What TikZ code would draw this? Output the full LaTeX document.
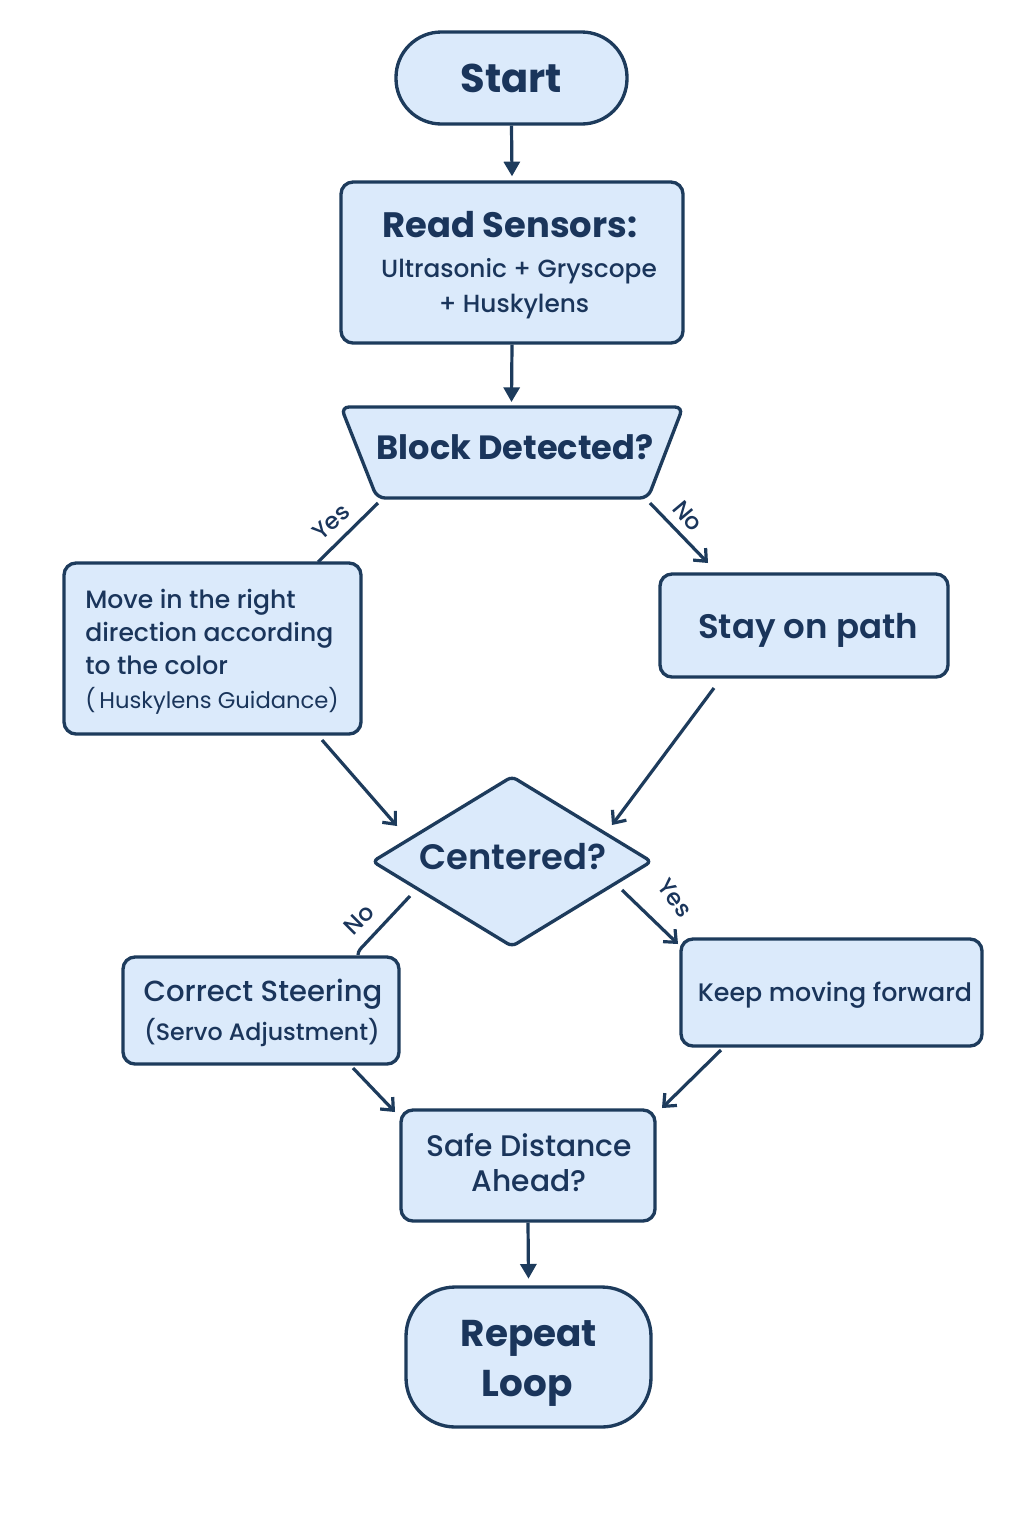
\documentclass[tikz,border=0pt]{standalone}
\usepackage{fontspec}
\setmainfont{Poppins}
\IfFontExistsTF{Poppins Medium}{\newfontfamily\medfont{Poppins Medium}}{\newfontfamily\medfont{Poppins}[FakeBold=1]}
\IfFontExistsTF{Poppins SemiBold}{\newfontfamily\semifont{Poppins SemiBold}}{\newfontfamily\semifont{Poppins}[FakeBold=2]}
\usetikzlibrary{arrows.meta,shapes.geometric}
\definecolor{edge}{HTML}{1D3B5C}
\definecolor{ink}{HTML}{1A355B}
\definecolor{boxfill}{HTML}{DBEAFB}
\begin{document}
\begin{tikzpicture}[x=0.75pt,y=-0.75pt,
  box/.style={draw=edge, line width=2.5pt, fill=boxfill, rounded corners=9pt, inner sep=0pt},
  txt/.style={text=ink, inner sep=0pt, anchor=base},
  lbl/.style={text=ink, inner sep=0pt, font=\medfont\fontsize{17.5}{21}\selectfont},
  arrv/.style={draw=edge, line width=2.4pt, -{Triangle[length=11pt,width=12pt]}},
  arrd/.style={draw=edge, line width=2.4pt, -{Straight Barb[length=7.5pt,width=13pt]}},
  link/.style={draw=edge, line width=2.4pt}]
\fill[white] (0,0) rectangle (1024,1536);
\useasboundingbox (0,0) rectangle (1024,1536);

% Start
\node[box, rounded corners=34pt, minimum width={231*0.75pt}, minimum height={92*0.75pt}] (start) at (511.5,78) {};
\node[txt, font=\bfseries\fontsize{30}{36}\selectfont] (t-start) at (511.5,92) {Start};

% Read sensors
\node[box, minimum width={342*0.75pt}, minimum height={161*0.75pt}] (read) at (512,262.5) {};
\node[txt, font=\bfseries\fontsize{26.5}{32}\selectfont] (t-read1) at (510,237) {Read Sensors:};
\node[txt, font=\medfont\fontsize{18.6}{22}\selectfont] (t-read2) at (519,277.5) {Ultrasonic + Gryscope};
\node[txt, font=\medfont\fontsize{18.6}{22}\selectfont] (t-read3) at (514,312.5) {+ Huskylens};

% Block detected (trapezoid)
\draw[draw=edge, line width=2.5pt, fill=boxfill, rounded corners=6pt]
  (341,407) -- (683,407) -- (648,498) -- (377,498) -- cycle;
\coordinate (bdN) at (511.5,407);
\coordinate (bdSW) at (378,503);
\coordinate (bdSE) at (650,503);
\node[txt, font=\bfseries\fontsize{25.2}{30}\selectfont] (bd) at (515,459.5) {Block Detected?};

% Move box
\node[box, minimum width={297*0.75pt}, minimum height={171*0.75pt}] (move) at (212.5,648.5) {};
\node[txt, anchor=base west, font=\medfont\fontsize{18.8}{22}\selectfont] (t-move1) at (85,608.5) {Move in the right};
\node[txt, anchor=base west, font=\medfont\fontsize{18.8}{22}\selectfont] (t-move2) at (85,641.5) {direction according};
\node[txt, anchor=base west, font=\medfont\fontsize{18.8}{22}\selectfont] (t-move3) at (85,674.5) {to the color};
\node[txt, anchor=base west, font=\fontsize{17}{20}\selectfont] (t-move4) at (85,708.5) {(\,Huskylens Guidance)};

% Stay on path
\node[box, minimum width={288*0.75pt}, minimum height={103*0.75pt}] (stay) at (804,625.5) {};
\node[txt, font=\semifont\fontsize{25.5}{30}\selectfont] (t-stay) at (808,638) {Stay on path};

% Centered diamond
\node[draw=edge, line width=2.5pt, fill=boxfill, shape=diamond, rounded corners=4pt, inner sep=0pt,
  minimum width={280*0.75pt}, minimum height={171*0.75pt}] (cent) at (512,861.5) {};
\node[txt, font=\semifont\fontsize{26.5}{32}\selectfont] (t-cent) at (513,869) {Centered?};

% Correct steering
\node[box, minimum width={276*0.75pt}, minimum height={107*0.75pt}] (steer) at (261,1010.5) {};
\node[txt, font=\medfont\fontsize{21.8}{26}\selectfont] (t-steer1) at (263,1001.7) {Correct Steering};
\node[txt, font=\medfont\fontsize{17.8}{21}\selectfont] (t-steer2) at (262,1040) {(Servo Adjustment)};

% Keep moving forward
\node[box, minimum width={301*0.75pt}, minimum height={107*0.75pt}] (keep) at (831.5,992.5) {};
\node[txt, font=\medfont\fontsize{19}{23}\selectfont] (t-keep) at (835,1001) {Keep moving forward};

% Safe distance
\node[box, minimum width={254*0.75pt}, minimum height={111*0.75pt}] (safe) at (528,1165.5) {};
\node[txt, font=\medfont\fontsize{22.3}{27}\selectfont] (t-safe1) at (529,1156) {Safe Distance};
\node[txt, font=\medfont\fontsize{22.3}{27}\selectfont] (t-safe2) at (529,1191.7) {Ahead?};

% Repeat loop
\node[box, rounded corners=37pt, minimum width={245*0.75pt}, minimum height={140*0.75pt}] (rep) at (528.5,1357) {};
\node[txt, font=\bfseries\fontsize{28}{34}\selectfont] (t-rep1) at (529,1346) {Repeat};
\node[txt, font=\bfseries\fontsize{28}{34}\selectfont] (t-rep2) at (527,1396) {Loop};

% connector end points
\coordinate (moveIn) at (318,562);
\coordinate (stayIn) at (708,563);
\coordinate (moveOut) at (322,740);
\coordinate (centInL) at (397,826);
\coordinate (stayOut) at (714,688);
\coordinate (centInR) at (612,825);
\coordinate (centOutL) at (410,896);
\coordinate (steerIn) at (358,955);
\coordinate (centOutR) at (622,890);
\coordinate (keepIn) at (678,944);
\coordinate (steerOut) at (353,1068);
\coordinate (safeInL) at (395,1112);
\coordinate (keepOut) at (721,1050);
\coordinate (safeInR) at (662,1108);

% connectors
\draw[arrv] (start.south) -- ([yshift=3pt]read.north);
\draw[arrv] (read.south) -- ([yshift=3.75pt]bdN);
\draw[link] (bdSW) -- (moveIn);
\draw[arrd] (bdSE) -- (stayIn);
\draw[arrd] (moveOut) -- (centInL);
\draw[arrd] (stayOut) -- (centInR);
\draw[link] (centOutL) -- (365,944) .. controls (361,948) and (358,951) .. (steerIn);
\draw[arrd] (centOutR) -- (keepIn);
\draw[arrd] (steerOut) -- (safeInL);
\draw[arrd] (keepOut) -- (safeInR);
\draw[arrv] (safe.south) -- ([yshift=5pt]rep.north);

% labels
\node[lbl, rotate=42] (l-yes1) at (331,522) {Yes};
\node[lbl, rotate=-50] (l-no1) at (688,516) {No};
\node[lbl, rotate=45] (l-no2) at (359,920) {No};
\node[lbl, rotate=-53] (l-yes2) at (675,898) {Yes};
\end{tikzpicture}
\end{document}
